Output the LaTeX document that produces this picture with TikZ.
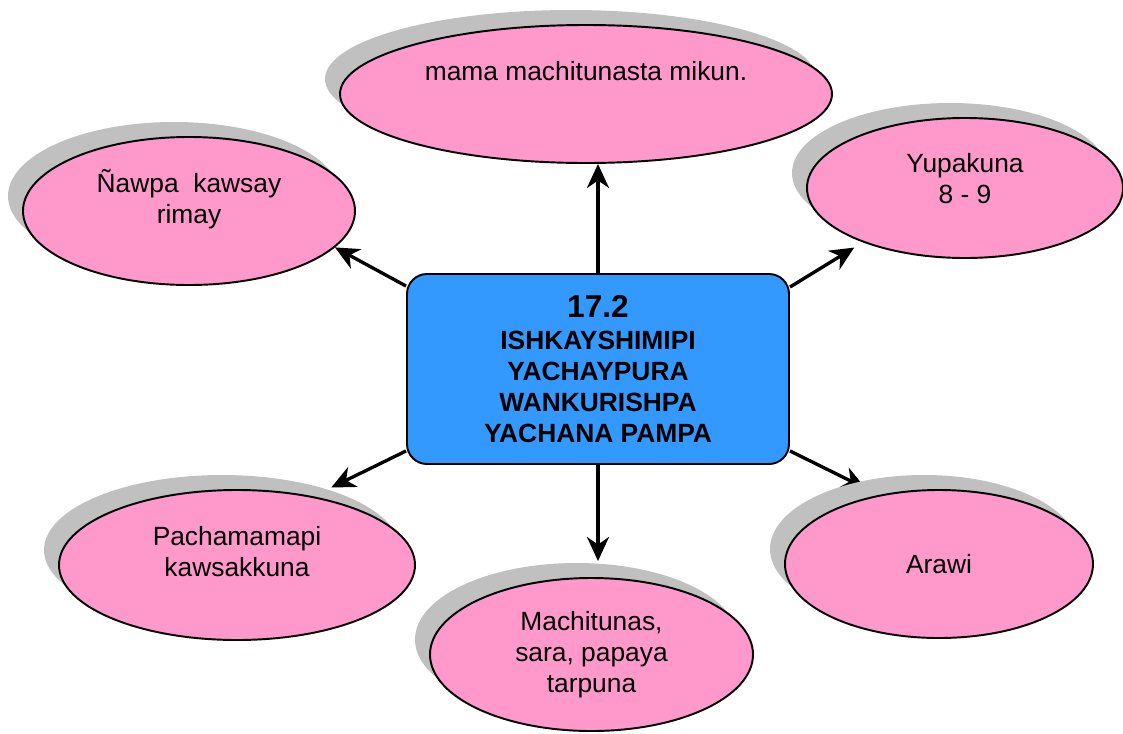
\documentclass[tikz,border=0pt]{standalone}
\usepackage{fontspec}
\setmainfont{Liberation Sans}
\usetikzlibrary{positioning}
\usetikzlibrary{shapes.geometric}
\usetikzlibrary{shadows}
\usetikzlibrary{backgrounds}
\usetikzlibrary{arrows.meta}
\definecolor{bubblepink}{HTML}{FF99CC}
\definecolor{topicblue}{HTML}{3399FF}
\definecolor{shadowgray}{HTML}{C0C0C0}

\begin{document}
\begin{tikzpicture}
    % Diagram style
    \tikzset{
        bubble/.style={ellipse, draw=black, line width=1.1pt, fill=bubblepink, inner sep=0pt,
            drop shadow={shadow xshift=-0.3cm, shadow yshift=0.3cm, fill=shadowgray, opacity=1}},
        bubtext/.style={align=center, inner sep=0pt, font=\fontsize{15}{17.6}\selectfont},
        topic/.style={rectangle, rounded corners=0.4cm, draw=black, line width=1.1pt, fill=topicblue,
            align=center, minimum width=7.64cm, minimum height=3.8cm,
            font=\bfseries\fontsize{15}{17.6}\selectfont},
        arr/.style={line width=1.9pt, -{Stealth[length=0.48cm, width=0.44cm, inset=0.15cm]}}
    }
    \useasboundingbox (0,0) rectangle (22.46,-14.66);

    % Central topic
    \node[topic] (topic) at (11.96,-7.38)
        {{\fontsize{18}{20}\selectfont 17.2}\\[1pt] ISHKAYSHIMIPI\\ YACHAYPURA\\ WANKURISHPA\\ YACHANA PAMPA};

    % Bubbles
    \node[bubble, minimum width=9.84cm, minimum height=2.76cm,
        label={[bubtext, yshift=0.45cm]center:{mama machitunasta mikun.}}] (mama) at (11.72,-1.88) {};
    \node[bubble, minimum width=6.64cm, minimum height=2.96cm,
        label={[bubtext, yshift=0.24cm]center:{Ñawpa\ \ kawsay\\ rimay}}] (nawpa) at (3.78,-4.22) {};
    \node[bubble, minimum width=6.32cm, minimum height=2.8cm,
        label={[bubtext, yshift=0.19cm]center:{Yupakuna\\ 8 - 9}}] (yupa) at (19.3,-3.76) {};
    \node[bubble, minimum width=7.12cm, minimum height=3cm,
        label={[bubtext, yshift=0.26cm]center:{Pachamamapi\\ kawsakkuna}}] (pacha) at (4.74,-11.3) {};
    \node[bubble, minimum width=6.46cm, minimum height=3.06cm,
        label={[bubtext]center:{Machitunas,\\ sara, papaya\\ tarpuna}}] (machi) at (11.83,-13.09) {};
    \node[bubble, minimum width=6.16cm, minimum height=2.96cm,
        label={[bubtext]center:{Arawi}}] (arawi) at (18.78,-11.28) {};

    % Arrows
    \draw[arr] (topic.north) -- (topic.north |- mama.south);
    \draw[arr] ([yshift=-0.26cm]topic.north west) -- (nawpa.-14);
    \draw[arr, shorten >=0.2cm] ([yshift=-0.28cm]topic.north east) -- (yupa.208);
    \draw[arr, shorten >=0.4cm] ([yshift=0.28cm]topic.south west) -- (pacha.42);
    \draw[arr, shorten >=0.32cm] (topic.south) -- (topic.south |- machi.north);
    % this one runs under the shadow
    \begin{pgfonlayer}{background}
        \draw[arr, shorten >=0.3cm] ([yshift=0.28cm]topic.south east) -- (arawi.131);
    \end{pgfonlayer}
\end{tikzpicture}
\end{document}
